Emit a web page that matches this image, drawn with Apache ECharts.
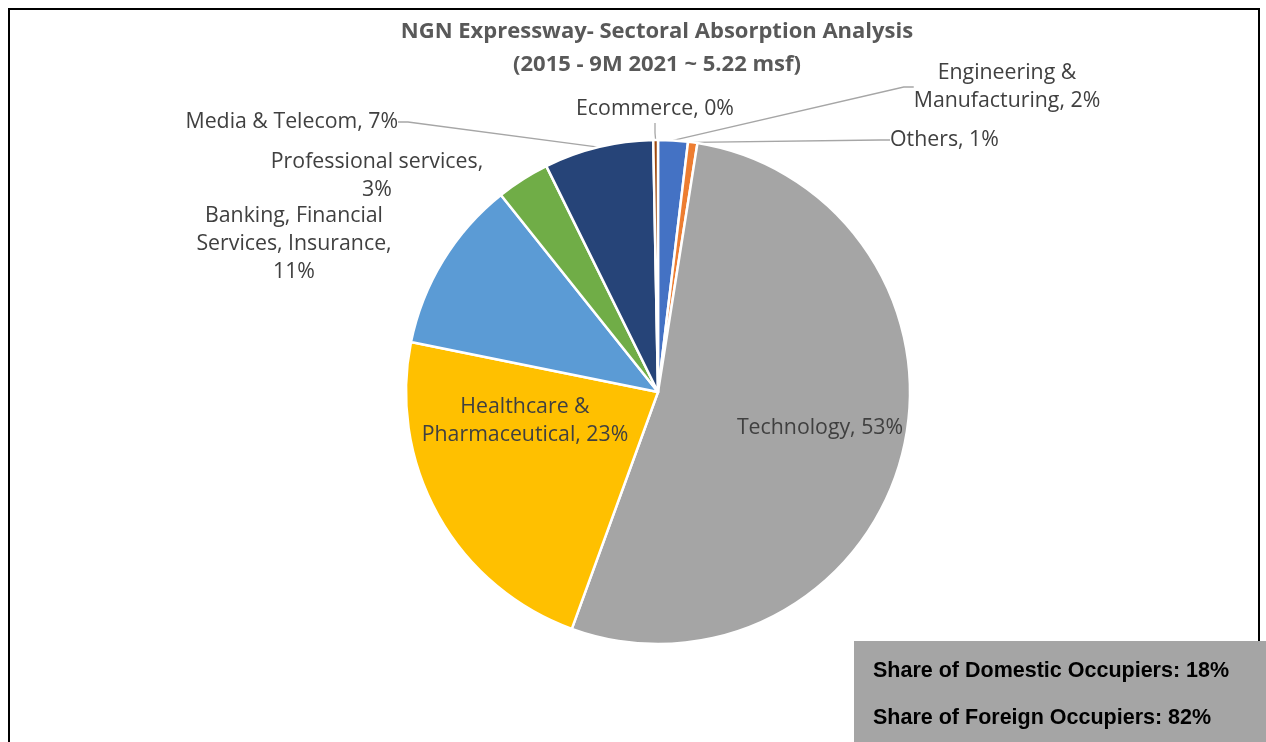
<!DOCTYPE html>
<html>
<head>
<meta charset="utf-8">
<title>NGN Expressway - Sectoral Absorption Analysis</title>
<script src="https://cdn.jsdelivr.net/npm/echarts@6/dist/echarts.min.js"></script>
<style>
html, body { margin: 0; padding: 0; background: #fff; }
#main { width: 1266px; height: 742px; }
</style>
</head>
<body>
<div id="main"></div>
<script>
// sectors, clockwise from 12 o'clock (share of absorption, %)
var sectors = ['Engineering &\nManufacturing', 'Others', 'Technology', 'Healthcare &\nPharmaceutical',
  'Banking, Financial\nServices, Insurance,\n', 'Professional services,\n', 'Media & Telecom', 'Ecommerce']
var shares = [1.9, 0.6, 53.0, 22.6, 11.1, 3.4, 7.0, 0.3]
var colors = ['#4472C4', '#ED7D31', '#A5A5A5', '#FFC000', '#5B9BD5', '#70AD47', '#264478', '#9E480E']
var occupierText = ['Share of Domestic Occupiers: 18%', 'Share of Foreign Occupiers: 82%']

// where each label sits (x, y, align)
var labelPos = [
  [1007, 87, 'center'],
  [890, 140, 'left'],
  [820, 428, 'center'],
  [525, 421, 'center'],
  [294, 244, 'center'],
  [377, 176, 'center'],
  [398, 122, 'right'],
  [655, 109, 'center']
]
var noLine = [2, 3, 4, 5]

var myChart = echarts.init(document.getElementById('main'))

var data = sectors.map(function (name, i) {
  return {
    name: name,
    value: shares[i],
    itemStyle: { color: colors[i] },
    labelLine: { show: noLine.indexOf(i) < 0 }
  }
})

var option = {
  animation: false,
  title: {
    text: 'NGN Expressway- Sectoral Absorption Analysis\n(2015 - 9M 2021 ~ 5.22 msf)',
    left: 652,
    top: 10,
    textAlign: 'center',
    textStyle: {
      fontFamily: 'Open Sans',
      fontSize: 22,
      fontWeight: 'bold',
      color: '#595959',
      lineHeight: 33
    }
  },
  graphic: [
    {
      type: 'rect',
      shape: { x: 9, y: 9, width: 1250, height: 800 },
      style: { fill: null, stroke: '#000', lineWidth: 2 },
      z: 1
    },
    {
      type: 'rect',
      shape: { x: 854, y: 641, width: 412, height: 110 },
      style: { fill: '#A5A5A5' },
      z: 10
    },
    {
      type: 'text',
      x: 873, y: 671,
      style: {
        text: occupierText[0], fill: '#000', font: 'bold 21.5px "Liberation Sans", Arial',
        verticalAlign: 'middle'
      },
      z: 11
    },
    {
      type: 'text',
      x: 873, y: 718,
      style: {
        text: occupierText[1], fill: '#000', font: 'bold 21.5px "Liberation Sans", Arial',
        verticalAlign: 'middle'
      },
      z: 11
    }
  ],
  series: [
    {
      type: 'pie',
      center: [658, 392],
      radius: [0, 252],
      startAngle: 90,
      clockwise: true,
      avoidLabelOverlap: false,
      itemStyle: { borderColor: '#fff', borderWidth: 2.5 },
      label: {
        show: true,
        fontFamily: 'Open Sans',
        fontSize: 21.3,
        lineHeight: 28,
        color: '#404040',
        formatter: function (p) {
          var sep = p.name.slice(-1) === '\n' ? '' : ', '
          return p.name + sep + Math.round(p.value) + '%'
        }
      },
      labelLine: {
        show: true,
        length: 10,
        length2: 10,
        lineStyle: { color: '#A6A6A6', width: 1.3 }
      },
      labelLayout: function (params) {
        var pos = labelPos[params.dataIndex]
        return {
          x: pos[0],
          y: pos[1],
          align: pos[2],
          verticalAlign: 'middle'
        }
      },
      data: data
    }
  ]
}

myChart.setOption(option)
</script>
</body>
</html>
